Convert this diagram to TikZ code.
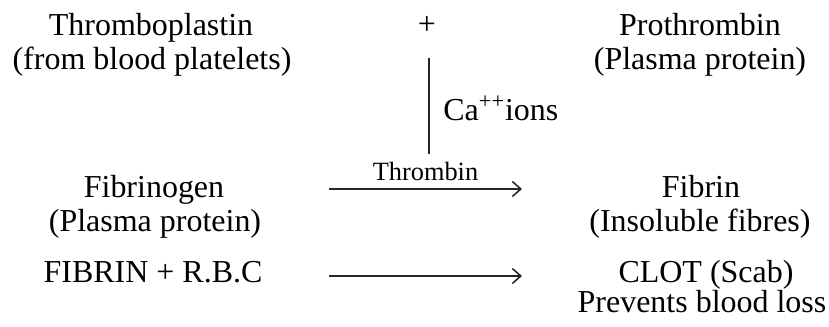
\documentclass[tikz,border=0pt]{standalone}
\usepackage{fontspec}
\setmainfont{Liberation Serif}
\usepackage{tikz}
\usetikzlibrary{arrows.meta, positioning}

\begin{document}
\begin{tikzpicture}[
    x=0.02cm, y=-0.02cm,
    >={Straight Barb[length=1.7mm, width=3mm]},
    txt/.style={anchor=base, inner sep=0pt, font=\fontsize{18.2}{20}\selectfont},
    small/.style={inner sep=0pt, font=\fontsize{15}{17}\selectfont},
    arrow/.style={->, line width=0.9pt, draw=black!85},
    link/.style={line width=0.9pt, draw=black!85}
]
\useasboundingbox (0,0) rectangle (829,326);

% =============================================================
% Row 1: Thromboplastin + Prothrombin
% =============================================================
\node[txt] (thrombopl) at (151,35) {Thromboplastin};
\node[txt] (platelets) at (152,69) {(from blood platelets)};
\node[txt] (plus) at (427,34) {+};
\node[txt] (prothromb) at (700,35) {Prothrombin};
\node[txt] (plasmaA) at (700,69) {(Plasma protein)};

% Ca++ link down to the thrombin step
\coordinate (catop) at (429,58);
\coordinate (cabot) at (429,154);
\draw[link] (catop) -- (cabot);
\node[txt, anchor=base west] (ca) at (443,120) {Ca\textsuperscript{++}ions};

% =============================================================
% Row 2: Fibrinogen -> Fibrin
% =============================================================
\node[txt] (fibrinogen) at (154,197) {Fibrinogen};
\node[txt] (plasmaB) at (155,231) {(Plasma protein)};
\node[txt] (fibrin) at (701,197) {Fibrin};
\node[txt] (insoluble) at (700,231) {(Insoluble fibres)};

\coordinate (thrA) at (329,189);
\coordinate (thrB) at (522,189);
\draw[arrow] (thrA) -- node[small, above=4pt] (thrombin) {Thrombin} (thrB);

% =============================================================
% Row 3: Fibrin + R.B.C -> Clot
% =============================================================
\node[txt] (mix) at (153,282) {FIBRIN + R.B.C};
\node[txt] (clot) at (706,282) {CLOT (Scab)};
\node[txt] (loss) at (702,312) {Prevents blood loss};

\coordinate (clotA) at (329,276);
\coordinate (clotB) at (522,276);
\draw[arrow] (clotA) -- (clotB);

\end{tikzpicture}
\end{document}
